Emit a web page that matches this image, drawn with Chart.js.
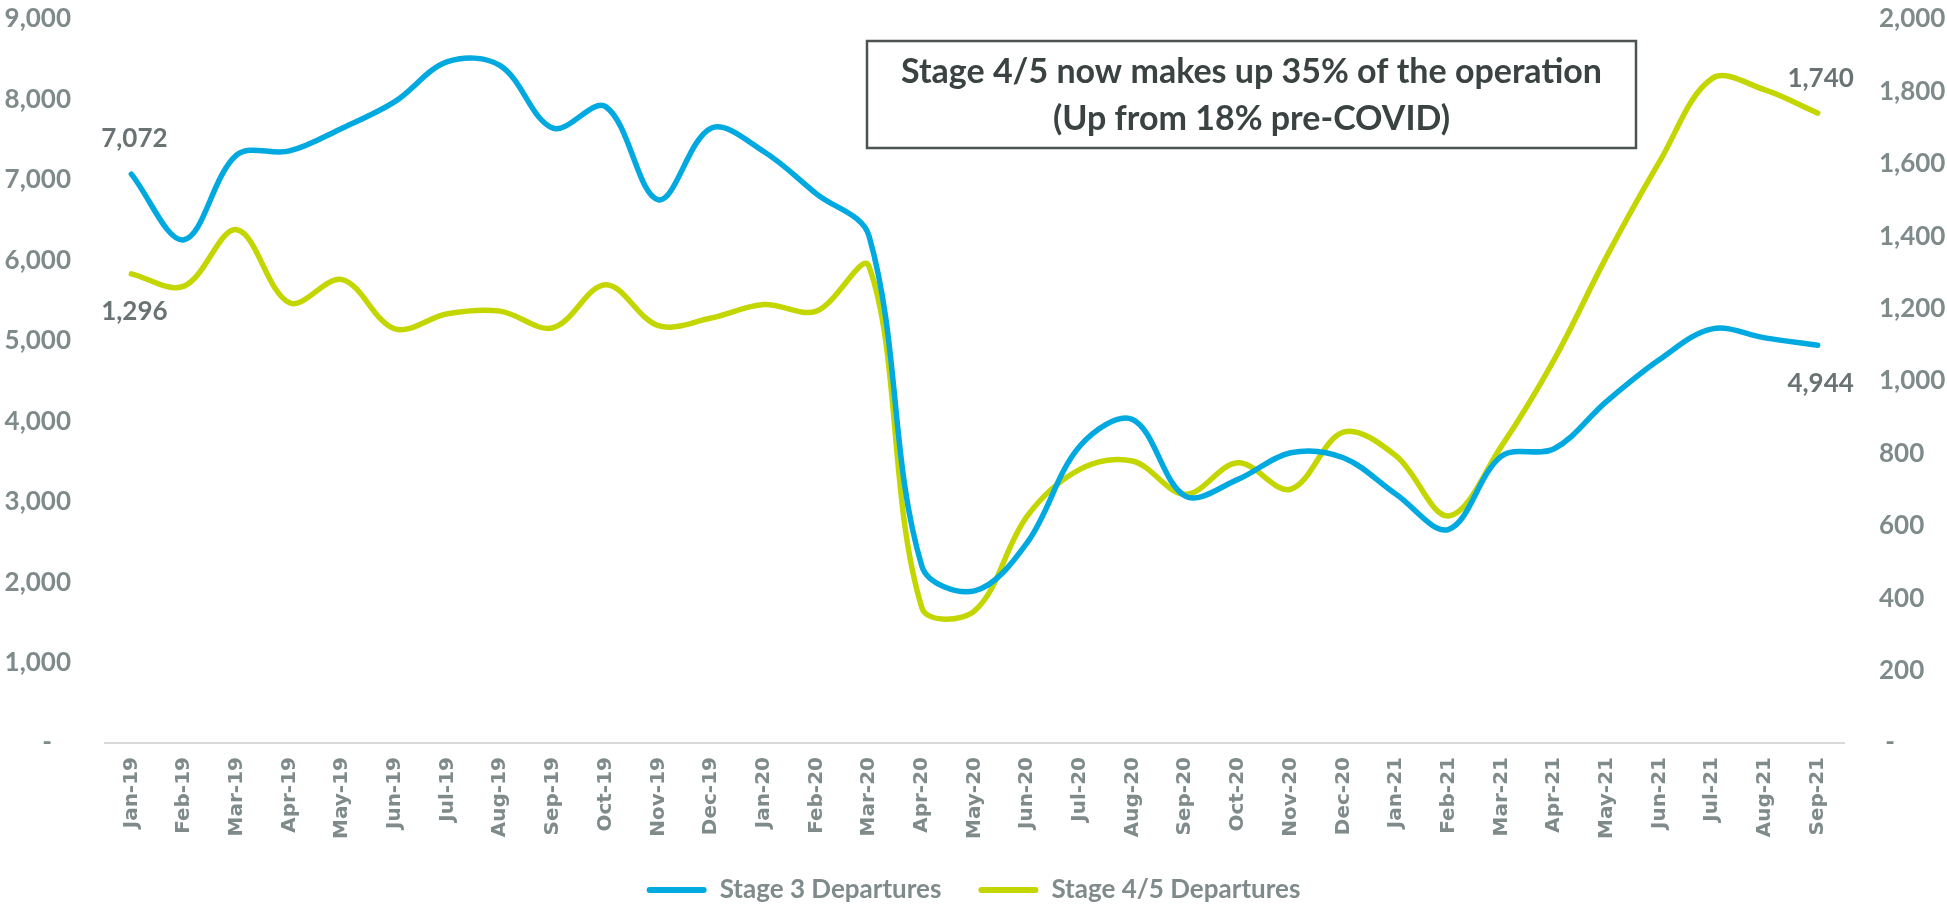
<!DOCTYPE html>
<html>
<head>
<meta charset="utf-8">
<script src="https://cdn.jsdelivr.net/npm/chart.js@4.4.1/dist/chart.umd.min.js"></script>
<style>
html, body { margin: 0; padding: 0; background: #ffffff; }
#wrap { width: 1947px; height: 913px; position: relative; }
</style>
</head>
<body>
<div id="wrap"><canvas id="c" width="1947" height="913"></canvas></div>
<script>
// ---- data ----
const months = ['Jan-19','Feb-19','Mar-19','Apr-19','May-19','Jun-19','Jul-19','Aug-19','Sep-19','Oct-19','Nov-19','Dec-19',
                'Jan-20','Feb-20','Mar-20','Apr-20','May-20','Jun-20','Jul-20','Aug-20','Sep-20','Oct-20','Nov-20','Dec-20',
                'Jan-21','Feb-21','Mar-21','Apr-21','May-21','Jun-21','Jul-21','Aug-21','Sep-21'];
const stage3 = [7072, 6256, 7310, 7360, 7643, 7973, 8470, 8420, 7643, 7911, 6753, 7643,
                7353, 6827, 6300, 2201, 1891, 2491, 3691, 4022, 3070, 3277, 3608, 3546,
                3091, 2656, 3566, 3658, 4250, 4767, 5148, 5036, 4944];
const stage45 = [1296, 1262, 1418, 1216, 1280, 1144, 1186, 1193, 1147, 1266, 1153, 1174,
                 1211, 1193, 1316, 374, 365, 627, 756, 779, 687, 774, 701, 859,
                 793, 627, 820, 1059, 1345, 1606, 1836, 1804, 1740];
const seriesNames = ['Stage 3 Departures', 'Stage 4/5 Departures'];
const leftAxis = { min: 0, max: 9000, step: 1000 };
const rightAxis = { min: 0, max: 2000, step: 200 };
const noteLines = ['Stage 4/5 now makes up 35% of the operation', '(Up from 18% pre-COVID)'];

// ---- styles ----
const BLUE = '#00A9E0';
const GREEN = '#C4D600';
const TICK = '#7f8a8a';
const LABEL = '#6a7373';
const fmt = v => v.toLocaleString('en-US');

const endLabels = {
  id: 'endLabels',
  afterDatasetsDraw(chart) {
    const ctx = chart.ctx;
    ctx.save();
    ctx.font = 'bold 26px Lato';
    ctx.fillStyle = LABEL;
    ctx.textAlign = 'center';
    ctx.textBaseline = 'middle';
    const offsets = [[-35, 38], [38, -35]]; // [first, last] per dataset
    chart.data.datasets.forEach((ds, di) => {
      const meta = chart.getDatasetMeta(di);
      const n = ds.data.length;
      [0, n - 1].forEach((idx, k) => {
        const pt = meta.data[idx];
        ctx.fillText(fmt(ds.data[idx]), pt.x + 3, pt.y + offsets[di][k]);
      });
    });
    ctx.restore();
  }
};

const noteBox = {
  id: 'noteBox',
  afterDraw(chart) {
    const ctx = chart.ctx;
    ctx.save();
    const x0 = 867, y0 = 41, x1 = 1636, y1 = 148;
    ctx.fillStyle = '#ffffff';
    ctx.fillRect(x0, y0, x1 - x0, y1 - y0);
    ctx.strokeStyle = '#4d5353';
    ctx.lineWidth = 2.5;
    ctx.strokeRect(x0, y0, x1 - x0, y1 - y0);
    ctx.fillStyle = '#3b4242';
    ctx.font = 'bold 34px Lato';
    ctx.textAlign = 'center';
    ctx.textBaseline = 'middle';
    const cx = (x0 + x1) / 2;
    ctx.fillText(noteLines[0], cx, 72);
    ctx.fillText(noteLines[1], cx, 119);
    ctx.restore();
  }
};

new Chart(document.getElementById('c'), {
  type: 'line',
  data: {
    labels: months,
    datasets: [
      { label: seriesNames[0], data: stage3, yAxisID: 'y', borderColor: BLUE, backgroundColor: BLUE,
        borderWidth: 5.5, pointRadius: 0, tension: 0.35, fill: false, borderCapStyle: 'round' },
      { label: seriesNames[1], data: stage45, yAxisID: 'y1', borderColor: GREEN, backgroundColor: GREEN,
        borderWidth: 5.5, pointRadius: 0, tension: 0.35, fill: false, borderCapStyle: 'round' }
    ]
  },
  options: {
    responsive: false,
    devicePixelRatio: 1,
    animation: false,
    layout: { padding: { top: 19, left: 0, right: 0, bottom: 0 } },
    plugins: {
      tooltip: { enabled: false },
      legend: {
        position: 'bottom',
        labels: {
          boxWidth: 60, boxHeight: 6, padding: 37,
          color: TICK,
          font: { family: 'Lato', weight: 'bold', size: 26, lineHeight: 1.0 },
          generateLabels(chart) {
            return Chart.defaults.plugins.legend.labels.generateLabels(chart).map(it => {
              it.lineWidth = 0; it.borderRadius = 3; return it;
            });
          }
        }
      }
    },
    scales: {
      x: {
        type: 'category',
        offset: true,
        grid: { display: false, drawTicks: false },
        border: { display: true, color: '#d9d9d9', width: 2 },
        ticks: { minRotation: 90, maxRotation: 90, autoSkip: false, padding: 14, color: TICK,
                 font: { family: 'DejaVu Sans', weight: 'bold', size: 20 } },
        afterFit(s) { s.height = 97; }
      },
      y: {
        position: 'left',
        min: leftAxis.min, max: leftAxis.max,
        grid: { display: false, drawTicks: true, tickLength: 31, color: 'rgba(0,0,0,0)' },
        border: { display: false },
        ticks: { stepSize: leftAxis.step, padding: 3, color: TICK,
                 font: { family: 'Lato', weight: 'bold', size: 26 },
                 callback: v => v === 0 ? '-   ' : fmt(v) },
        afterFit(s) { s.width = 105; }
      },
      y1: {
        position: 'right',
        min: rightAxis.min, max: rightAxis.max,
        grid: { display: false, drawTicks: true, tickLength: 32, color: 'rgba(0,0,0,0)' },
        border: { display: false },
        ticks: { stepSize: rightAxis.step, padding: 3, color: TICK,
                 font: { family: 'Lato', weight: 'bold', size: 26 },
                 callback: v => v === 0 ? ' -' : fmt(v) },
        afterFit(s) { s.width = 103; }
      }
    }
  },
  plugins: [endLabels, noteBox]
});
</script>
</body>
</html>
